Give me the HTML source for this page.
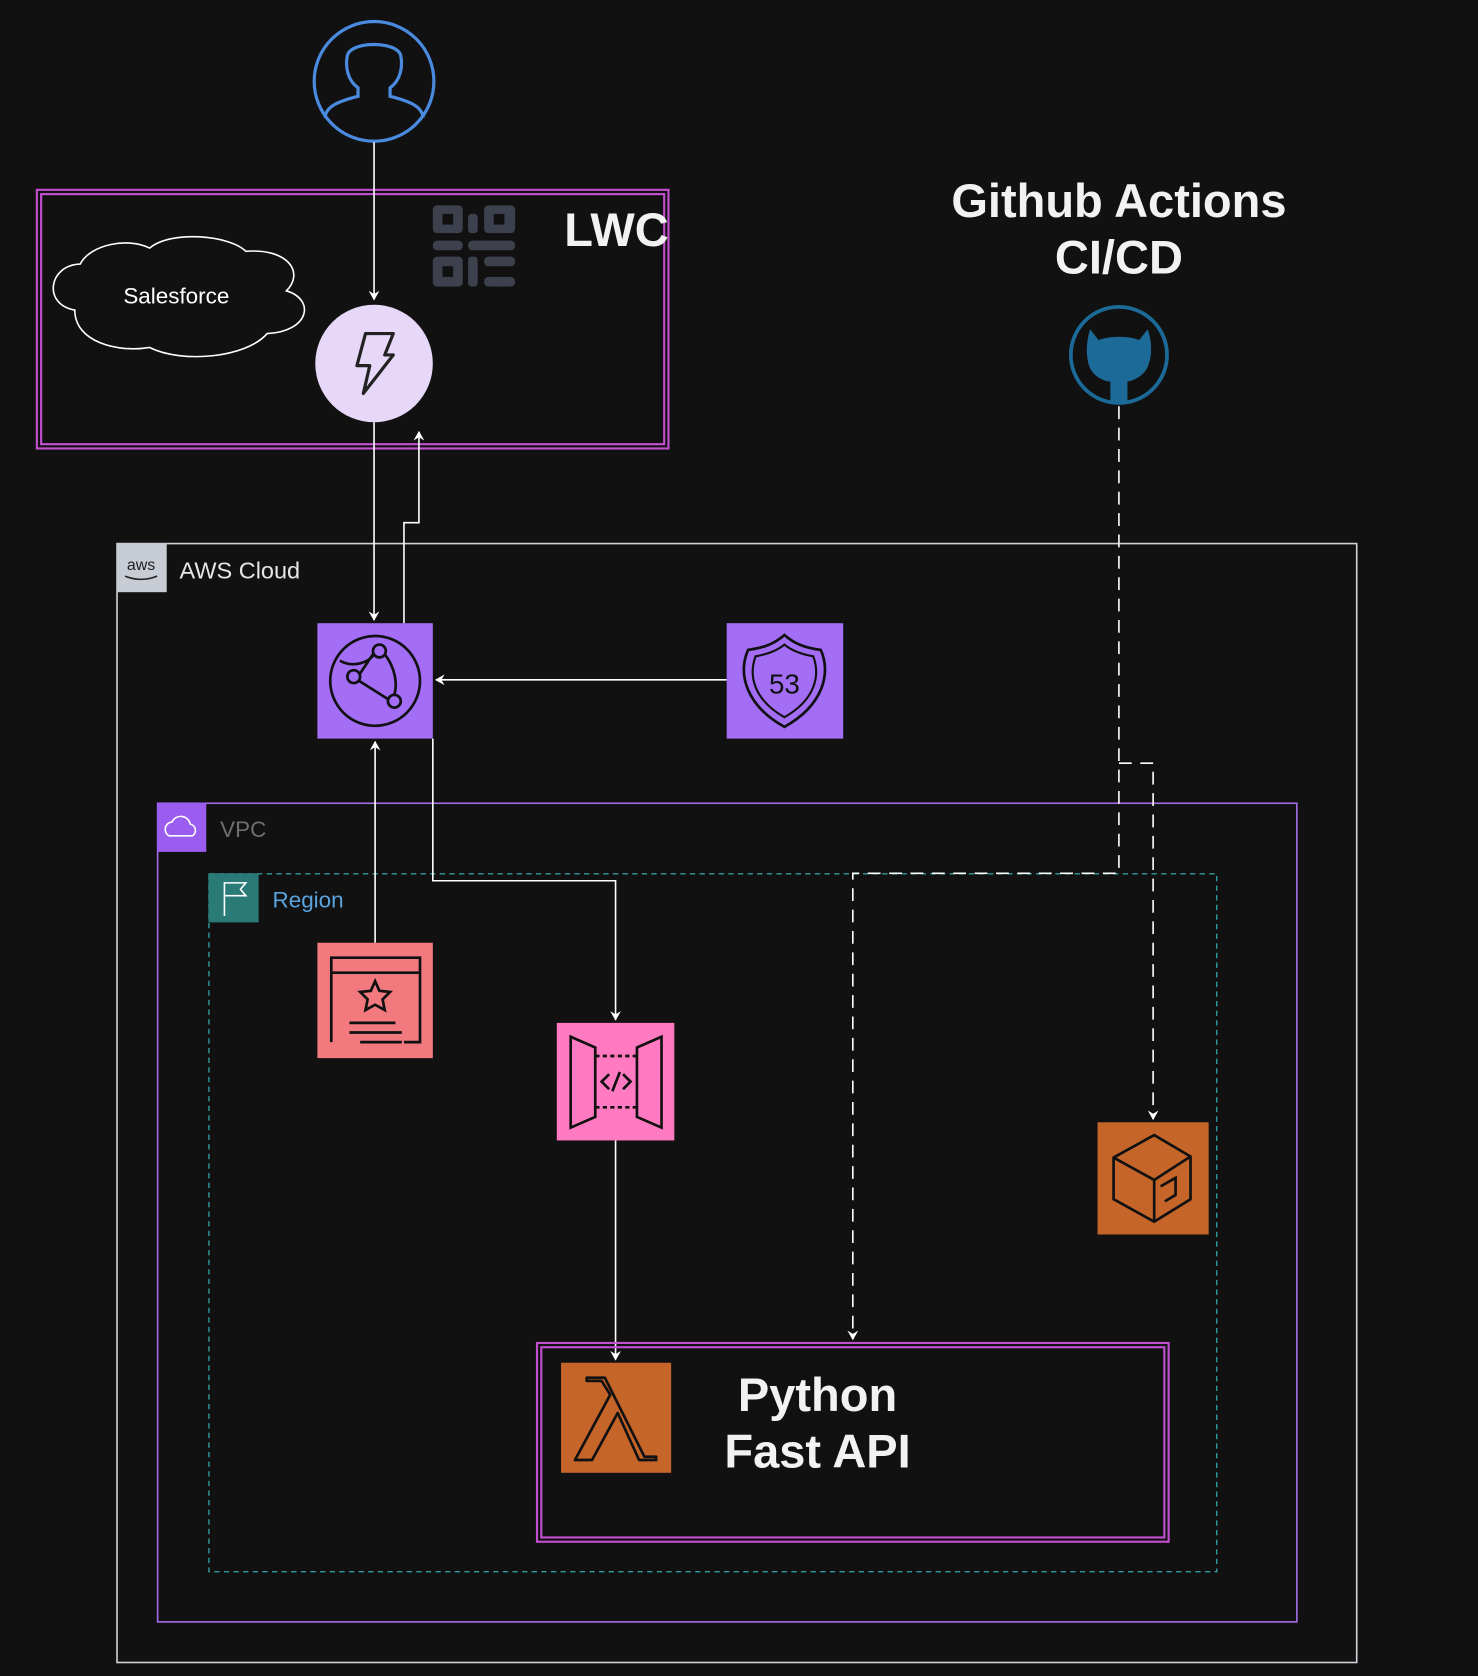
<!DOCTYPE html>
<html><head><meta charset="utf-8">
<style>
html,body{margin:0;padding:0;background:#111;}
svg{display:block}
text{font-family:"Liberation Sans",sans-serif;}
</style></head>
<body>
<svg width="1478" height="1676" viewBox="0 0 1383 1568" xmlns="http://www.w3.org/2000/svg">
<defs>
<marker id="a" markerWidth="10" markerHeight="10" refX="8" refY="5" orient="auto" markerUnits="userSpaceOnUse">
<path d="M0,0 L9,5 L0,10 L3,5 z" fill="#fff"/></marker>
</defs>
<rect width="1383" height="1568" fill="#111"/>

<!-- AWS cloud -->
<rect x="109.5" y="508.5" width="1160" height="1047" fill="none" stroke="#d0d4da" stroke-width="1.5"/>
<rect x="109" y="508" width="47" height="46" fill="#c8ccd4"/>
<text x="132" y="533" font-size="15" fill="#222" text-anchor="middle">aws</text>
<path d="M117 539 q15 6 30 0" stroke="#222" fill="none" stroke-width="1.5"/>
<text x="168" y="541" font-size="22" fill="#e6e6e6">AWS Cloud</text>

<!-- VPC -->
<rect x="147.5" y="751.5" width="1066" height="766" fill="none" stroke="#a46ee8" stroke-width="1.5"/>
<rect x="147" y="751" width="46" height="46" fill="#9b5cf0"/>
<path d="M158 782 a7 7 0 0 1 3-13 a9 9 0 0 1 17 2 a6 6 0 0 1 2 11z" fill="none" stroke="#fff" stroke-width="1.5"/>
<text x="206" y="783" font-size="21" fill="#6f6f6f">VPC</text>

<!-- Region -->
<rect x="195.5" y="817.5" width="943" height="653" fill="none" stroke="#2f9c9c" stroke-width="1.3" stroke-dasharray="5,4"/>
<rect x="195" y="817" width="47" height="46" fill="#2a7a78"/>
<path d="M210 857 V826 H230 l-5 6 l5 6 H210" fill="none" stroke="#fff" stroke-width="1.5"/>
<text x="255" y="849" font-size="21" fill="#5aa3dc">Region</text>

<!-- LWC box -->
<rect x="34.5" y="177.5" width="591" height="242" fill="none" stroke="#c34fd0" stroke-width="2"/>
<rect x="38.5" y="181.5" width="583" height="234" fill="none" stroke="#c34fd0" stroke-width="2"/>
<g fill="#3c414d">
<rect x="405" y="192" width="28" height="26" rx="4"/><rect x="453" y="192" width="29" height="26" rx="4"/>
<rect x="405" y="240" width="28" height="28" rx="4"/>
<rect x="405" y="225" width="28" height="9" rx="4"/><rect x="438" y="225" width="44" height="9" rx="4"/>
<rect x="453" y="240" width="29" height="9" rx="4"/><rect x="453" y="259" width="29" height="9" rx="4"/>
<rect x="438" y="200" width="9" height="18" rx="3"/><rect x="438" y="240" width="9" height="28" rx="3"/>
</g>
<g fill="#111"><rect x="414" y="200" width="10" height="10"/><rect x="462" y="200" width="10" height="10"/><rect x="414" y="249" width="10" height="10"/></g>
<text x="528" y="230" font-size="44" font-weight="bold" fill="#f2f2f2">LWC</text>

<!-- Salesforce cloud -->
<path d="M70 290 C40 285 45 248 75 247 C85 228 120 222 140 232 C160 215 215 220 230 235 C270 232 285 255 268 272 C295 280 290 310 250 312 C230 335 170 340 140 325 C110 330 70 320 70 290 Z" fill="none" stroke="#fff" stroke-width="1.5"/>
<text x="165" y="284" font-size="21" fill="#fff" text-anchor="middle">Salesforce</text>

<!-- User -->
<circle cx="350" cy="76" r="56" fill="none" stroke="#4a8be0" stroke-width="3"/>
<path d="M304 110 C305 100 315 95 335 90 L335 82 C325 75 323 62 325 52 C328 38 372 38 375 52 C377 62 375 75 365 82 L365 90 C385 95 395 100 396 110" fill="none" stroke="#4a8be0" stroke-width="3"/>

<!-- Lightning -->
<circle cx="350" cy="340" r="55" fill="#e7d7f8"/>
<path d="M342 312 L368 312 L360 332 L368 332 L340 368 L346 342 L334 342 Z" fill="none" stroke="#222" stroke-width="3" stroke-linejoin="round"/>

<!-- Github -->
<text x="1047" y="203" font-size="44" font-weight="bold" fill="#f2f2f2" text-anchor="middle">Github Actions</text>
<text x="1047" y="256" font-size="44" font-weight="bold" fill="#f2f2f2" text-anchor="middle">CI/CD</text>
<circle cx="1047" cy="332" r="45" fill="#111" stroke="#1b6a98" stroke-width="3.5"/>
<path d="M1020 308 L1028 318 C1040 314 1054 314 1066 318 L1074 308 C1078 320 1078 332 1075 340 C1072 352 1060 356 1055 357 L1055 377 L1039 377 L1039 357 C1030 356 1020 350 1018 338 C1016 328 1017 318 1020 308 Z" fill="#1b6a98"/>

<!-- Connectors -->
<g stroke="#fff" stroke-width="1.5" fill="none">
<line x1="350" y1="133" x2="350" y2="280" marker-end="url(#a)"/>
<line x1="350" y1="395" x2="350" y2="580" marker-end="url(#a)"/>
<polyline points="378,583 378,489 392,489 392,404" marker-end="url(#a)"/>
<line x1="680" y1="636" x2="408" y2="636" marker-end="url(#a)"/>
<line x1="351" y1="882" x2="351" y2="694" marker-end="url(#a)"/>
<polyline points="405,691 405,824 576,824 576,954" marker-end="url(#a)"/>
<line x1="576" y1="1067" x2="576" y2="1272" marker-end="url(#a)"/>
</g>
<g stroke="#fff" stroke-width="1.5" fill="none" stroke-dasharray="12,8">
<polyline points="1047,380 1047,817 798,817 798,1253" marker-end="url(#a)"/>
<polyline points="1047,714 1079,714 1079,1047" marker-end="url(#a)"/>
</g>

<!-- CloudFront -->
<rect x="297" y="583" width="108" height="108" fill="#a36df5"/>
<g fill="none" stroke="#111" stroke-width="2.5">
<circle cx="351" cy="637" r="42"/>
<circle cx="355" cy="609" r="6"/><circle cx="331" cy="633" r="6"/><circle cx="369" cy="656" r="6"/>
<path d="M337 630 L349 612 M336 637 L363 654 M360 612 C370 625 372 640 369 650 M318 618 C330 625 345 620 350 612"/>
</g>

<!-- Route53 -->
<rect x="680" y="583" width="109" height="108" fill="#a36df5"/>
<path d="M700 608 C715 606 725 602 734 594 C743 602 753 606 768 608 C778 630 770 660 734 680 C698 660 690 630 700 608 Z" fill="none" stroke="#111" stroke-width="2.5"/>
<path d="M707 614 C718 612 727 609 734 603 C741 609 750 612 761 614 C768 633 762 655 734 671 C706 655 700 633 707 614 Z" fill="none" stroke="#111" stroke-width="2"/>
<text x="734" y="649" font-size="26" fill="#111" text-anchor="middle">53</text>

<!-- Certificate -->
<rect x="297" y="882" width="108" height="108" fill="#f27a7f"/>
<g fill="none" stroke="#111" stroke-width="2.5">
<path d="M310 975 V896 H393 V975 H378"/><line x1="310" y1="910" x2="393" y2="910"/>
<path d="M351 918 l4 9 l10 1 l-7 7 l2 10 l-9 -5 l-9 5 l2 -10 l-7 -7 l10 -1 z"/>
<line x1="327" y1="957" x2="370" y2="957"/><line x1="327" y1="966" x2="376" y2="966"/><line x1="337" y1="975" x2="376" y2="975"/>
</g>

<!-- API Gateway -->
<rect x="521" y="957" width="110" height="110" fill="#ff7ac0"/>
<g fill="none" stroke="#111" stroke-width="2.5">
<path d="M534 970 L557 980 V1045 L534 1055 Z"/><path d="M619 970 L596 980 V1045 L619 1055 Z"/>
<line x1="557" y1="988" x2="596" y2="988" stroke-dasharray="4,3"/><line x1="557" y1="1036" x2="596" y2="1036" stroke-dasharray="4,3"/>
<path d="M570 1005 l-7 7 l7 7 M583 1005 l7 7 l-7 7 M580 1003 l-7 18"/>
</g>

<!-- ECR-ish -->
<rect x="1027" y="1050" width="104" height="105" fill="#c5652a"/>
<g fill="none" stroke="#111" stroke-width="2.5">
<path d="M1042 1083 L1080 1062 L1114 1082 L1114 1122 L1080 1143 L1042 1122 Z"/>
<path d="M1042 1083 L1080 1104 L1114 1082 M1080 1104 V1143"/>
<path d="M1086 1110 L1100 1102 V1118 L1090 1124"/>
</g>

<!-- Python box -->
<rect x="502.5" y="1256.5" width="591" height="186" fill="none" stroke="#c34fd0" stroke-width="2"/>
<rect x="506.5" y="1260.5" width="583" height="178" fill="none" stroke="#c34fd0" stroke-width="2"/>
<rect x="525" y="1275" width="103" height="103" fill="#c5652a"/>
<path d="M549 1289 H566 L603 1363 H614 L614 1366 H598 L578 1322 L554 1366 H538 L571 1305 L563 1292 H549 Z" fill="none" stroke="#111" stroke-width="2.5" stroke-linejoin="round"/>
<text x="765" y="1320" font-size="44" font-weight="bold" fill="#f2f2f2" text-anchor="middle">Python</text>
<text x="765" y="1373" font-size="44" font-weight="bold" fill="#f2f2f2" text-anchor="middle">Fast API</text>
</svg>
</body></html>
